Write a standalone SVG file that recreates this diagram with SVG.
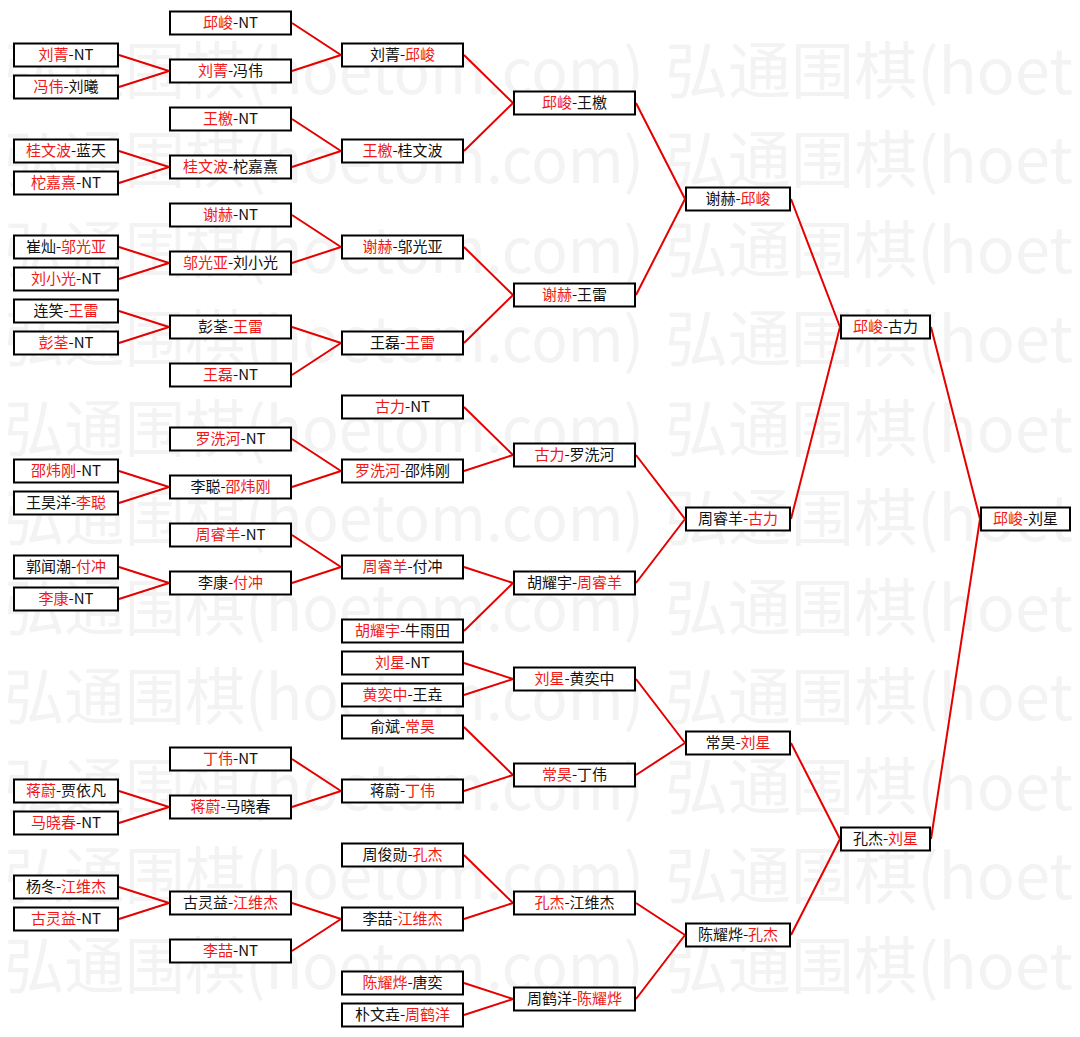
<svg xmlns="http://www.w3.org/2000/svg" width="1080" height="1037" viewBox="0 0 1080 1037">
<style>
.wm{font-family:"Noto Sans CJK SC","Noto Sans",sans-serif;font-size:62px;fill:#f3f3f3}
.node rect{fill:#fff;stroke:#000;stroke-width:2}
.node text{font-family:"Noto Sans CJK SC","Noto Sans",sans-serif;font-size:15px;text-anchor:middle;fill:#111}
.r{fill:#f01818}
#connectors path{fill:none;stroke:#e60000;stroke-width:2}
</style>
<rect width="1080" height="1037" fill="#fff"/>
<g id="watermark" class="wm">
<text x="4" y="94" textLength="640" lengthAdjust="spacingAndGlyphs">弘通围棋(hoetom.com)</text><text x="665" y="94" textLength="408" lengthAdjust="spacingAndGlyphs">弘通围棋(hoet</text>
<text x="4" y="183" textLength="640" lengthAdjust="spacingAndGlyphs">弘通围棋(hoetom.com)</text><text x="665" y="183" textLength="408" lengthAdjust="spacingAndGlyphs">弘通围棋(hoet</text>
<text x="4" y="273" textLength="640" lengthAdjust="spacingAndGlyphs">弘通围棋(hoetom.com)</text><text x="665" y="273" textLength="408" lengthAdjust="spacingAndGlyphs">弘通围棋(hoet</text>
<text x="4" y="362" textLength="640" lengthAdjust="spacingAndGlyphs">弘通围棋(hoetom.com)</text><text x="665" y="362" textLength="408" lengthAdjust="spacingAndGlyphs">弘通围棋(hoet</text>
<text x="4" y="452" textLength="640" lengthAdjust="spacingAndGlyphs">弘通围棋(hoetom.com)</text><text x="665" y="452" textLength="408" lengthAdjust="spacingAndGlyphs">弘通围棋(hoet</text>
<text x="4" y="541" textLength="640" lengthAdjust="spacingAndGlyphs">弘通围棋(hoetom.com)</text><text x="665" y="541" textLength="408" lengthAdjust="spacingAndGlyphs">弘通围棋(hoet</text>
<text x="4" y="631" textLength="640" lengthAdjust="spacingAndGlyphs">弘通围棋(hoetom.com)</text><text x="665" y="631" textLength="408" lengthAdjust="spacingAndGlyphs">弘通围棋(hoet</text>
<text x="4" y="720" textLength="640" lengthAdjust="spacingAndGlyphs">弘通围棋(hoetom.com)</text><text x="665" y="720" textLength="408" lengthAdjust="spacingAndGlyphs">弘通围棋(hoet</text>
<text x="4" y="810" textLength="640" lengthAdjust="spacingAndGlyphs">弘通围棋(hoetom.com)</text><text x="665" y="810" textLength="408" lengthAdjust="spacingAndGlyphs">弘通围棋(hoet</text>
<text x="4" y="899" textLength="640" lengthAdjust="spacingAndGlyphs">弘通围棋(hoetom.com)</text><text x="665" y="899" textLength="408" lengthAdjust="spacingAndGlyphs">弘通围棋(hoet</text>
<text x="4" y="989" textLength="640" lengthAdjust="spacingAndGlyphs">弘通围棋(hoetom.com)</text><text x="665" y="989" textLength="408" lengthAdjust="spacingAndGlyphs">弘通围棋(hoet</text>
</g>
<g id="connectors">
<path d="M119 55L169 71M119 87L169 71M119 151L169 167M119 183L169 167M119 247L169 263M119 279L169 263M119 311L169 327M119 343L169 327M119 471L169 487M119 503L169 487M119 567L169 583M119 599L169 583M119 791L169 807M119 823L169 807M119 887L169 903M119 919L169 903"/>
<path d="M292 23L341 55M292 71L341 55M292 119L341 151M292 167L341 151M292 215L341 247M292 263L341 247M292 327L341 343M292 375L341 343M292 439L341 471M292 487L341 471M292 535L341 567M292 583L341 567M292 759L341 791M292 807L341 791M292 903L341 919M292 951L341 919"/>
<path d="M464 55L513 103M464 151L513 103M464 247L513 295M464 343L513 295M464 407L513 455M464 471L513 455M464 567L513 583M464 631L513 583M464 663L513 679M464 695L513 679M464 727L513 775M464 791L513 775M464 855L513 903M464 919L513 903M464 983L513 999M464 1015L513 999"/>
<path d="M636 103L685 199M636 295L685 199M636 455L685 519M636 583L685 519M636 679L685 743M636 775L685 743M636 903L685 935M636 999L685 935"/>
<path d="M791 199L840 327M791 519L840 327M791 743L840 839M791 935L840 839"/>
<path d="M931 327L980 519M931 839L980 519"/>
</g>
<!-- column 1 -->
<g id="n1-1" class="node"><rect x="14" y="43.5" width="104" height="23"/><text x="66" y="60"><tspan class="r">刘菁</tspan>-NT</text></g>
<g id="n1-2" class="node"><rect x="14" y="75.5" width="104" height="23"/><text x="66" y="92"><tspan class="r">冯伟</tspan>-刘曦</text></g>
<g id="n1-4" class="node"><rect x="14" y="139.5" width="104" height="23"/><text x="66" y="156"><tspan class="r">桂文波</tspan>-蓝天</text></g>
<g id="n1-5" class="node"><rect x="14" y="171.5" width="104" height="23"/><text x="66" y="188"><tspan class="r">柁嘉熹</tspan>-NT</text></g>
<g id="n1-7" class="node"><rect x="14" y="235.5" width="104" height="23"/><text x="66" y="252">崔灿-<tspan class="r">邬光亚</tspan></text></g>
<g id="n1-8" class="node"><rect x="14" y="267.5" width="104" height="23"/><text x="66" y="284"><tspan class="r">刘小光</tspan>-NT</text></g>
<g id="n1-9" class="node"><rect x="14" y="299.5" width="104" height="23"/><text x="66" y="316">连笑-<tspan class="r">王雷</tspan></text></g>
<g id="n1-10" class="node"><rect x="14" y="331.5" width="104" height="23"/><text x="66" y="348"><tspan class="r">彭荃</tspan>-NT</text></g>
<g id="n1-14" class="node"><rect x="14" y="459.5" width="104" height="23"/><text x="66" y="476"><tspan class="r">邵炜刚</tspan>-NT</text></g>
<g id="n1-15" class="node"><rect x="14" y="491.5" width="104" height="23"/><text x="66" y="508">王昊洋-<tspan class="r">李聪</tspan></text></g>
<g id="n1-17" class="node"><rect x="14" y="555.5" width="104" height="23"/><text x="66" y="572">郭闻潮-<tspan class="r">付冲</tspan></text></g>
<g id="n1-18" class="node"><rect x="14" y="587.5" width="104" height="23"/><text x="66" y="604"><tspan class="r">李康</tspan>-NT</text></g>
<g id="n1-24" class="node"><rect x="14" y="779.5" width="104" height="23"/><text x="66" y="796"><tspan class="r">蒋蔚</tspan>-贾依凡</text></g>
<g id="n1-25" class="node"><rect x="14" y="811.5" width="104" height="23"/><text x="66" y="828"><tspan class="r">马晓春</tspan>-NT</text></g>
<g id="n1-27" class="node"><rect x="14" y="875.5" width="104" height="23"/><text x="66" y="892">杨冬-<tspan class="r">江维杰</tspan></text></g>
<g id="n1-28" class="node"><rect x="14" y="907.5" width="104" height="23"/><text x="66" y="924"><tspan class="r">古灵益</tspan>-NT</text></g>
<!-- column 2 -->
<g id="n2-1" class="node"><rect x="170" y="11.5" width="121" height="23"/><text x="230.5" y="28"><tspan class="r">邱峻</tspan>-NT</text></g>
<g id="n2-2" class="node"><rect x="170" y="59.5" width="121" height="23"/><text x="230.5" y="76"><tspan class="r">刘菁</tspan>-冯伟</text></g>
<g id="n2-3" class="node"><rect x="170" y="107.5" width="121" height="23"/><text x="230.5" y="124"><tspan class="r">王檄</tspan>-NT</text></g>
<g id="n2-4" class="node"><rect x="170" y="155.5" width="121" height="23"/><text x="230.5" y="172"><tspan class="r">桂文波</tspan>-柁嘉熹</text></g>
<g id="n2-5" class="node"><rect x="170" y="203.5" width="121" height="23"/><text x="230.5" y="220"><tspan class="r">谢赫</tspan>-NT</text></g>
<g id="n2-6" class="node"><rect x="170" y="251.5" width="121" height="23"/><text x="230.5" y="268"><tspan class="r">邬光亚</tspan>-刘小光</text></g>
<g id="n2-7" class="node"><rect x="170" y="315.5" width="121" height="23"/><text x="230.5" y="332">彭荃-<tspan class="r">王雷</tspan></text></g>
<g id="n2-8" class="node"><rect x="170" y="363.5" width="121" height="23"/><text x="230.5" y="380"><tspan class="r">王磊</tspan>-NT</text></g>
<g id="n2-9" class="node"><rect x="170" y="427.5" width="121" height="23"/><text x="230.5" y="444"><tspan class="r">罗洗河</tspan>-NT</text></g>
<g id="n2-10" class="node"><rect x="170" y="475.5" width="121" height="23"/><text x="230.5" y="492">李聪-<tspan class="r">邵炜刚</tspan></text></g>
<g id="n2-11" class="node"><rect x="170" y="523.5" width="121" height="23"/><text x="230.5" y="540"><tspan class="r">周睿羊</tspan>-NT</text></g>
<g id="n2-12" class="node"><rect x="170" y="571.5" width="121" height="23"/><text x="230.5" y="588">李康-<tspan class="r">付冲</tspan></text></g>
<g id="n2-13" class="node"><rect x="170" y="747.5" width="121" height="23"/><text x="230.5" y="764"><tspan class="r">丁伟</tspan>-NT</text></g>
<g id="n2-14" class="node"><rect x="170" y="795.5" width="121" height="23"/><text x="230.5" y="812"><tspan class="r">蒋蔚</tspan>-马晓春</text></g>
<g id="n2-15" class="node"><rect x="170" y="891.5" width="121" height="23"/><text x="230.5" y="908">古灵益-<tspan class="r">江维杰</tspan></text></g>
<g id="n2-16" class="node"><rect x="170" y="939.5" width="121" height="23"/><text x="230.5" y="956"><tspan class="r">李喆</tspan>-NT</text></g>
<!-- column 3 -->
<g id="n3-1" class="node"><rect x="342" y="43.5" width="121" height="23"/><text x="402.5" y="60">刘菁-<tspan class="r">邱峻</tspan></text></g>
<g id="n3-2" class="node"><rect x="342" y="139.5" width="121" height="23"/><text x="402.5" y="156"><tspan class="r">王檄</tspan>-桂文波</text></g>
<g id="n3-3" class="node"><rect x="342" y="235.5" width="121" height="23"/><text x="402.5" y="252"><tspan class="r">谢赫</tspan>-邬光亚</text></g>
<g id="n3-4" class="node"><rect x="342" y="331.5" width="121" height="23"/><text x="402.5" y="348">王磊-<tspan class="r">王雷</tspan></text></g>
<g id="n3-5" class="node"><rect x="342" y="395.5" width="121" height="23"/><text x="402.5" y="412"><tspan class="r">古力</tspan>-NT</text></g>
<g id="n3-6" class="node"><rect x="342" y="459.5" width="121" height="23"/><text x="402.5" y="476"><tspan class="r">罗洗河</tspan>-邵炜刚</text></g>
<g id="n3-7" class="node"><rect x="342" y="555.5" width="121" height="23"/><text x="402.5" y="572"><tspan class="r">周睿羊</tspan>-付冲</text></g>
<g id="n3-8" class="node"><rect x="342" y="619.5" width="121" height="23"/><text x="402.5" y="636"><tspan class="r">胡耀宇</tspan>-牛雨田</text></g>
<g id="n3-9" class="node"><rect x="342" y="651.5" width="121" height="23"/><text x="402.5" y="668"><tspan class="r">刘星</tspan>-NT</text></g>
<g id="n3-10" class="node"><rect x="342" y="683.5" width="121" height="23"/><text x="402.5" y="700"><tspan class="r">黄奕中</tspan>-王垚</text></g>
<g id="n3-11" class="node"><rect x="342" y="715.5" width="121" height="23"/><text x="402.5" y="732">俞斌-<tspan class="r">常昊</tspan></text></g>
<g id="n3-12" class="node"><rect x="342" y="779.5" width="121" height="23"/><text x="402.5" y="796">蒋蔚-<tspan class="r">丁伟</tspan></text></g>
<g id="n3-13" class="node"><rect x="342" y="843.5" width="121" height="23"/><text x="402.5" y="860">周俊勋-<tspan class="r">孔杰</tspan></text></g>
<g id="n3-14" class="node"><rect x="342" y="907.5" width="121" height="23"/><text x="402.5" y="924">李喆-<tspan class="r">江维杰</tspan></text></g>
<g id="n3-15" class="node"><rect x="342" y="971.5" width="121" height="23"/><text x="402.5" y="988"><tspan class="r">陈耀烨</tspan>-唐奕</text></g>
<g id="n3-16" class="node"><rect x="342" y="1003.5" width="121" height="23"/><text x="402.5" y="1020">朴文垚-<tspan class="r">周鹤洋</tspan></text></g>
<!-- column 4 -->
<g id="n4-1" class="node"><rect x="514" y="91.5" width="121" height="23"/><text x="574.5" y="108"><tspan class="r">邱峻</tspan>-王檄</text></g>
<g id="n4-2" class="node"><rect x="514" y="283.5" width="121" height="23"/><text x="574.5" y="300"><tspan class="r">谢赫</tspan>-王雷</text></g>
<g id="n4-3" class="node"><rect x="514" y="443.5" width="121" height="23"/><text x="574.5" y="460"><tspan class="r">古力</tspan>-罗洗河</text></g>
<g id="n4-4" class="node"><rect x="514" y="571.5" width="121" height="23"/><text x="574.5" y="588">胡耀宇-<tspan class="r">周睿羊</tspan></text></g>
<g id="n4-5" class="node"><rect x="514" y="667.5" width="121" height="23"/><text x="574.5" y="684"><tspan class="r">刘星</tspan>-黄奕中</text></g>
<g id="n4-6" class="node"><rect x="514" y="763.5" width="121" height="23"/><text x="574.5" y="780"><tspan class="r">常昊</tspan>-丁伟</text></g>
<g id="n4-7" class="node"><rect x="514" y="891.5" width="121" height="23"/><text x="574.5" y="908"><tspan class="r">孔杰</tspan>-江维杰</text></g>
<g id="n4-8" class="node"><rect x="514" y="987.5" width="121" height="23"/><text x="574.5" y="1004">周鹤洋-<tspan class="r">陈耀烨</tspan></text></g>
<!-- column 5 -->
<g id="n5-1" class="node"><rect x="686" y="187.5" width="104" height="23"/><text x="738" y="204">谢赫-<tspan class="r">邱峻</tspan></text></g>
<g id="n5-2" class="node"><rect x="686" y="507.5" width="104" height="23"/><text x="738" y="524">周睿羊-<tspan class="r">古力</tspan></text></g>
<g id="n5-3" class="node"><rect x="686" y="731.5" width="104" height="23"/><text x="738" y="748">常昊-<tspan class="r">刘星</tspan></text></g>
<g id="n5-4" class="node"><rect x="686" y="923.5" width="104" height="23"/><text x="738" y="940">陈耀烨-<tspan class="r">孔杰</tspan></text></g>
<!-- column 6 -->
<g id="n6-1" class="node"><rect x="841" y="315.5" width="89" height="23"/><text x="885.5" y="332"><tspan class="r">邱峻</tspan>-古力</text></g>
<g id="n6-2" class="node"><rect x="841" y="827.5" width="89" height="23"/><text x="885.5" y="844">孔杰-<tspan class="r">刘星</tspan></text></g>
<!-- final -->
<g id="n7-1" class="node"><rect x="981" y="507.5" width="89" height="23"/><text x="1025.5" y="524"><tspan class="r">邱峻</tspan>-刘星</text></g>
</svg>
